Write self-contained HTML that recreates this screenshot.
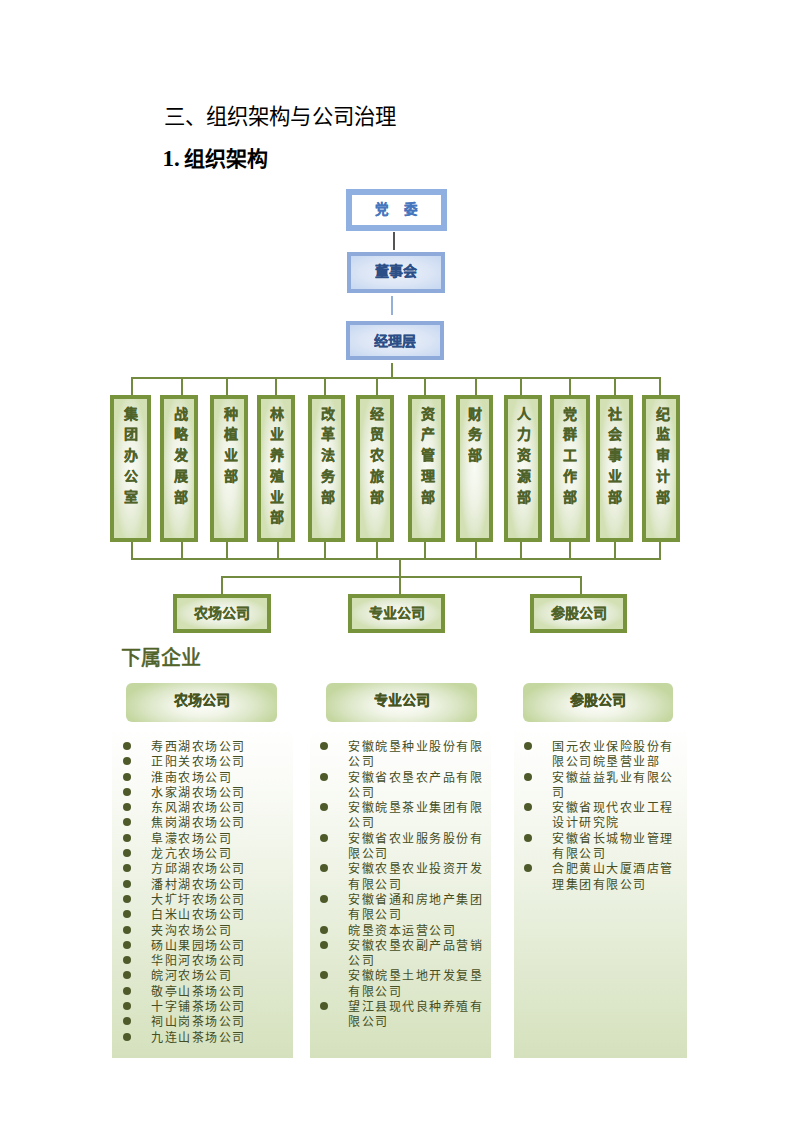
<!DOCTYPE html>
<html lang="zh-CN">
<head>
<meta charset="utf-8">
<style>
html,body{margin:0;padding:0;background:#fff;}
body{width:794px;height:1122px;position:relative;overflow:hidden;font-family:"Liberation Sans",sans-serif;}
.a{position:absolute;}
.t{position:absolute;white-space:nowrap;line-height:1;}
.bb{position:absolute;box-sizing:border-box;border:4px solid #8eaadb;background:radial-gradient(ellipse at center,#eef2fa 0%,#dbe5f5 55%,#c6d7f1 100%);}
.gb{position:absolute;box-sizing:border-box;border:4px solid #77933c;background:radial-gradient(ellipse 52% 56% at 50% 50%,#f9fbf4 0%,#eff3e6 45%,#dfe8cc 80%,#d2e0b3 100%);}
.vt{position:absolute;left:0;right:0;top:4.5px;text-align:center;font-weight:bold;font-size:14px;line-height:20.8px;color:#4f6228;-webkit-text-stroke:0.25px #4f6228;}
.hl{position:absolute;background:#728b3e;}
.ct{position:absolute;left:0;right:0;text-align:center;font-weight:bold;font-size:14px;line-height:20px;color:#4f6228;-webkit-text-stroke:0.25px currentColor;}
.hdr{position:absolute;top:683px;height:39px;border-radius:6px;background:radial-gradient(ellipse 52% 75% at 50% 58%,#fdfdf9 0%,#f1f5e8 35%,#dbe6c6 70%,#c5d7a0 100%);}
.hdr span{position:absolute;left:0;right:0;top:6px;text-align:center;font-weight:bold;font-size:14px;color:#46541f;-webkit-text-stroke:0.3px #46541f;}
.pn{position:absolute;top:725px;height:333px;background:linear-gradient(to bottom,#ffffff 0%,#fbfcf8 15%,#eef3e5 45%,#e0e9cf 75%,#d5e1bd 100%);}
.ls{position:absolute;font-size:12px;line-height:15.3px;color:#454d22;letter-spacing:1.5px;}
.ls div{position:relative;}
.ls i{position:absolute;width:8px;height:8px;border-radius:50%;background:#4f5a2a;top:2px;}
</style>
</head>
<body>
<!-- Titles -->
<div class="t" style="left:163.5px;top:107px;font-size:21.4px;letter-spacing:0.15px;color:#000;">三、组织架构与公司治理</div>
<div class="t" style="left:162.5px;top:146.5px;font-size:23px;font-weight:bold;color:#000;font-family:'Liberation Serif',serif;">1.</div><div class="t" style="left:184px;top:148px;font-size:21px;font-weight:bold;color:#000;">组织架构</div>

<!-- top blue boxes -->
<div class="a" style="left:346px;top:189px;width:101px;height:42px;box-sizing:border-box;border:6px solid #8fb0e0;background:#fff;">
  <div class="ct" style="top:4.5px;color:#4676bd;font-size:13.5px;left:-1px;"><span style="letter-spacing:16px;margin-right:-16px">党委</span></div>
</div>
<div class="a" style="left:393px;top:232px;width:2px;height:18px;background:#555;"></div>
<div class="bb" style="left:347px;top:252px;width:98px;height:41px;">
  <div class="ct" style="top:4.5px;color:#2c4f88;font-size:14px;">董事会</div>
</div>
<div class="a" style="left:391px;top:296px;width:2px;height:19px;background:#95b0d6;"></div>
<div class="bb" style="left:346px;top:321px;width:98px;height:39px;">
  <div class="ct" style="top:6px;color:#2c4f88;font-size:14px;">经理层</div>
</div>
<div class="hl" style="left:391px;top:363px;width:2px;height:15px;"></div>

<!-- department connectors -->
<div class="hl" style="left:131px;top:377px;width:530px;height:2px;"></div>
<div class="hl" style="left:131px;top:558px;width:530px;height:2px;"></div>

<div class="hl" style="left:131px;top:378px;width:2px;height:17px;"></div>
<div class="hl" style="left:131px;top:542px;width:2px;height:17px;"></div>
<div class="gb" style="left:110px;top:395px;width:41px;height:147px;"><div class="vt" style="left:0px;right:0px">集<br>团<br>办<br>公<br>室</div></div>
<div class="hl" style="left:181px;top:378px;width:2px;height:17px;"></div>
<div class="hl" style="left:181px;top:542px;width:2px;height:17px;"></div>
<div class="gb" style="left:160px;top:395px;width:38px;height:147px;"><div class="vt" style="left:1.5px;right:-1.5px">战<br>略<br>发<br>展<br>部</div></div>
<div class="hl" style="left:226px;top:378px;width:2px;height:17px;"></div>
<div class="hl" style="left:226px;top:542px;width:2px;height:17px;"></div>
<div class="gb" style="left:210px;top:395px;width:38px;height:147px;"><div class="vt" style="left:2px;right:-2px">种<br>植<br>业<br>部</div></div>
<div class="hl" style="left:275px;top:378px;width:2px;height:17px;"></div>
<div class="hl" style="left:276.5px;top:542px;width:2px;height:17px;"></div>
<div class="gb" style="left:257px;top:395px;width:38px;height:147px;"><div class="vt" style="left:1.2px;right:-1.2px">林<br>业<br>养<br>殖<br>业<br>部</div></div>
<div class="hl" style="left:324px;top:378px;width:2px;height:17px;"></div>
<div class="hl" style="left:324px;top:542px;width:2px;height:17px;"></div>
<div class="gb" style="left:308px;top:395px;width:37px;height:147px;"><div class="vt" style="left:1.2px;right:-1.2px">改<br>革<br>法<br>务<br>部</div></div>
<div class="hl" style="left:376px;top:378px;width:2px;height:17px;"></div>
<div class="hl" style="left:376px;top:542px;width:2px;height:17px;"></div>
<div class="gb" style="left:356px;top:395px;width:38px;height:147px;"><div class="vt" style="left:2.3px;right:-2.3px">经<br>贸<br>农<br>旅<br>部</div></div>
<div class="hl" style="left:424px;top:378px;width:2px;height:17px;"></div>
<div class="hl" style="left:424px;top:542px;width:2px;height:17px;"></div>
<div class="gb" style="left:408px;top:395px;width:37px;height:147px;"><div class="vt" style="left:1.5px;right:-1.5px">资<br>产<br>管<br>理<br>部</div></div>
<div class="hl" style="left:475px;top:378px;width:2px;height:17px;"></div>
<div class="hl" style="left:475px;top:542px;width:2px;height:17px;"></div>
<div class="gb" style="left:456px;top:395px;width:37px;height:147px;"><div class="vt" style="left:0.6px;right:-0.6px">财<br>务<br>部</div></div>
<div class="hl" style="left:520px;top:378px;width:2px;height:17px;"></div>
<div class="hl" style="left:520px;top:542px;width:2px;height:17px;"></div>
<div class="gb" style="left:504px;top:395px;width:38px;height:147px;"><div class="vt" style="left:1.2px;right:-1.2px">人<br>力<br>资<br>源<br>部</div></div>
<div class="hl" style="left:569px;top:378px;width:2px;height:17px;"></div>
<div class="hl" style="left:569px;top:542px;width:2px;height:17px;"></div>
<div class="gb" style="left:550px;top:395px;width:40px;height:147px;"><div class="vt" style="left:0px;right:0px">党<br>群<br>工<br>作<br>部</div></div>
<div class="hl" style="left:614px;top:378px;width:2px;height:17px;"></div>
<div class="hl" style="left:614px;top:542px;width:2px;height:17px;"></div>
<div class="gb" style="left:596px;top:395px;width:37px;height:147px;"><div class="vt" style="left:0.3px;right:-0.3px">社<br>会<br>事<br>业<br>部</div></div>
<div class="hl" style="left:659px;top:378px;width:2px;height:17px;"></div>
<div class="hl" style="left:659px;top:542px;width:2px;height:17px;"></div>
<div class="gb" style="left:642px;top:395px;width:38px;height:147px;"><div class="vt" style="left:1.9px;right:-1.9px">纪<br>监<br>审<br>计<br>部</div></div>

<!-- company connectors -->
<div class="hl" style="left:399px;top:559px;width:2px;height:18px;"></div>
<div class="hl" style="left:221px;top:576px;width:361px;height:2px;"></div>
<div class="hl" style="left:221px;top:576px;width:2px;height:18px;"></div>
<div class="hl" style="left:399px;top:576px;width:2px;height:18px;"></div>
<div class="hl" style="left:580px;top:576px;width:2px;height:18px;"></div>

<div class="gb" style="left:173px;top:594px;width:98px;height:39px;"><div class="ct" style="top:4.5px;">农场公司</div></div>
<div class="gb" style="left:348px;top:594px;width:97px;height:39px;"><div class="ct" style="top:4.5px;">专业公司</div></div>
<div class="gb" style="left:530px;top:594px;width:97px;height:39px;"><div class="ct" style="top:4.5px;">参股公司</div></div>

<!-- lower section -->
<div class="t" style="left:120.5px;top:647.5px;font-size:20px;font-weight:normal;color:#4f6228;-webkit-text-stroke:0.6px #4f6228;">下属企业</div>

<div class="pn" style="left:112px;width:181px;"></div>
<div class="pn" style="left:310px;width:181px;"></div>
<div class="pn" style="left:514px;width:173px;"></div>

<div class="hdr" style="left:126px;width:151px;"><span>农场公司</span></div>
<div class="hdr" style="left:326px;width:151px;"><span>专业公司</span></div>
<div class="hdr" style="left:523px;width:150px;"><span>参股公司</span></div>

<div class="ls" style="left:151px;top:740px;"><div><i style="left:-28px"></i>寿西湖农场公司</div><div><i style="left:-28px"></i>正阳关农场公司</div><div><i style="left:-28px"></i>淮南农场公司</div><div><i style="left:-28px"></i>水家湖农场公司</div><div><i style="left:-28px"></i>东风湖农场公司</div><div><i style="left:-28px"></i>焦岗湖农场公司</div><div><i style="left:-28px"></i>阜濛农场公司</div><div><i style="left:-28px"></i>龙亢农场公司</div><div><i style="left:-28px"></i>方邱湖农场公司</div><div><i style="left:-28px"></i>潘村湖农场公司</div><div><i style="left:-28px"></i>大圹圩农场公司</div><div><i style="left:-28px"></i>白米山农场公司</div><div><i style="left:-28px"></i>夹沟农场公司</div><div><i style="left:-28px"></i>砀山果园场公司</div><div><i style="left:-28px"></i>华阳河农场公司</div><div><i style="left:-28px"></i>皖河农场公司</div><div><i style="left:-28px"></i>敬亭山茶场公司</div><div><i style="left:-28px"></i>十字铺茶场公司</div><div><i style="left:-28px"></i>祠山岗茶场公司</div><div><i style="left:-28px"></i>九连山茶场公司</div></div>
<div class="ls" style="left:348px;top:740px;"><div><i style="left:-28px"></i>安徽皖垦种业股份有限<br>公司</div><div><i style="left:-28px"></i>安徽省农垦农产品有限<br>公司</div><div><i style="left:-28px"></i>安徽皖垦茶业集团有限<br>公司</div><div><i style="left:-28px"></i>安徽省农业服务股份有<br>限公司</div><div><i style="left:-28px"></i>安徽农垦农业投资开发<br>有限公司</div><div><i style="left:-28px"></i>安徽省通和房地产集团<br>有限公司</div><div><i style="left:-28px"></i>皖垦资本运营公司</div><div><i style="left:-28px"></i>安徽农垦农副产品营销<br>公司</div><div><i style="left:-28px"></i>安徽皖垦土地开发复垦<br>有限公司</div><div><i style="left:-28px"></i>望江县现代良种养殖有<br>限公司</div></div>
<div class="ls" style="left:552px;top:740px;"><div><i style="left:-28px"></i>国元农业保险股份有<br>限公司皖垦营业部</div><div><i style="left:-28px"></i>安徽益益乳业有限公<br>司</div><div><i style="left:-28px"></i>安徽省现代农业工程<br>设计研究院</div><div><i style="left:-28px"></i>安徽省长城物业管理<br>有限公司</div><div><i style="left:-28px"></i>合肥黄山大厦酒店管<br>理集团有限公司</div></div>
</body>
</html>
